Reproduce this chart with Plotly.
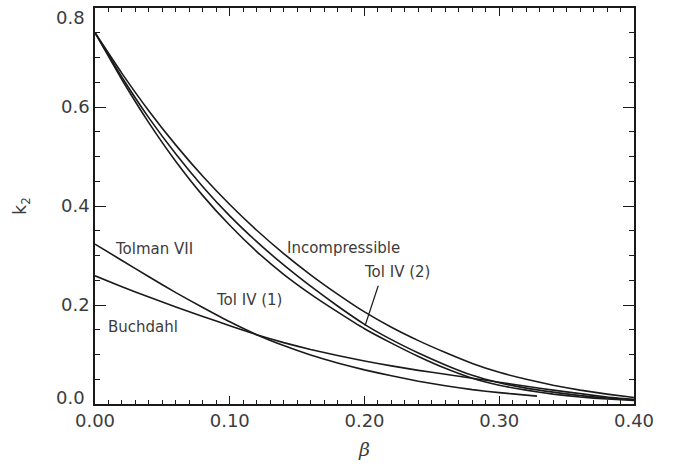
import plotly.graph_objects as go

# Compactness grid (beta = GM/Rc^2) shared by the curves
beta = [0.00, 0.02, 0.04, 0.06, 0.08, 0.10, 0.12, 0.14, 0.16, 0.18, 0.20,
        0.22, 0.24, 0.26, 0.28, 0.30, 0.32, 0.34, 0.36, 0.38, 0.40]

# Tidal Love number k2 for each model
k2_incompressible = [0.750, 0.668, 0.592, 0.523, 0.460, 0.403, 0.351, 0.304, 0.261, 0.222, 0.186,
                     0.155, 0.128, 0.104, 0.082, 0.064, 0.050, 0.038, 0.028, 0.020, 0.013]
k2_tol4_2 = [0.750, 0.660, 0.578, 0.505, 0.439, 0.380, 0.328, 0.281, 0.238, 0.198, 0.161,
             0.130, 0.103, 0.079, 0.058, 0.043, 0.032, 0.024, 0.017, 0.012, 0.009]
k2_tol4_1 = [0.750, 0.655, 0.568, 0.490, 0.421, 0.361, 0.308, 0.262, 0.222, 0.186, 0.152,
             0.123, 0.096, 0.072, 0.052, 0.038, 0.028, 0.020, 0.014, 0.010, 0.007]
k2_buchdahl = [0.259, 0.237, 0.216, 0.196, 0.177, 0.158, 0.140, 0.124, 0.110, 0.098, 0.087,
               0.077, 0.068, 0.060, 0.052, 0.044, 0.036, 0.028, 0.021, 0.014, 0.009]

beta_tolman7 = [0.00, 0.02, 0.04, 0.06, 0.08, 0.10, 0.12, 0.14, 0.16, 0.18, 0.20,
                0.22, 0.24, 0.26, 0.28, 0.30, 0.32, 0.328]
k2_tolman7 = [0.323, 0.290, 0.257, 0.225, 0.195, 0.166, 0.140, 0.118, 0.099, 0.083, 0.069,
              0.057, 0.046, 0.037, 0.029, 0.023, 0.018, 0.016]

x_ticks = [0.0, 0.1, 0.2, 0.3, 0.4]
x_ticklabels = ["0.00", "0.10", "0.20", "0.30", "0.40"]
y_ticks = [0.0, 0.2, 0.4, 0.6, 0.8]
y_ticklabels = ["0.0", "0.2", "0.4", "0.6", "0.8"]

ink = "#1a1a1a"
text_grey = "#3c3c3c"
tick_font = dict(family="DejaVu Sans", size=18, color=text_grey)

line_style = dict(color=ink, width=1.6, shape="spline", smoothing=0.4)

fig = go.Figure()
for xs, ys, name in [
    (beta, k2_incompressible, "Incompressible"),
    (beta, k2_tol4_2, "Tol IV (2)"),
    (beta, k2_tol4_1, "Tol IV (1)"),
    (beta, k2_buchdahl, "Buchdahl"),
    (beta_tolman7, k2_tolman7, "Tolman VII"),
]:
    fig.add_trace(go.Scatter(x=xs, y=ys, mode="lines", name=name,
                             line=line_style, showlegend=False, hoverinfo="skip"))

label_font = dict(family="DejaVu Sans", size=15, color=text_grey)
for text, x, y in [
    ("Incompressible", 0.141, 0.315),
    ("Tol IV (2)", 0.198, 0.266),
    ("Tol IV (1)", 0.088, 0.211),
    ("Tolman VII", 0.013, 0.313),
    ("Buchdahl", 0.008, 0.155),
]:
    fig.add_annotation(x=x, y=y, text=text, showarrow=False, xanchor="left",
                       yanchor="middle", font=label_font)

# Pointer from the "Tol IV (2)" label to its curve
fig.add_shape(type="line", x0=0.2102, y0=0.239, x1=0.2004, y1=0.158,
              line=dict(color=ink, width=1.2))

# End labels of the k2 axis sit inside the frame, so they are placed by hand
y_label_show = [t if 0 < v < 0.8 else "" for v, t in zip(y_ticks, y_ticklabels)]
for v, t, shift in [(y_ticks[0], y_ticklabels[0], 7), (y_ticks[-1], y_ticklabels[-1], -9)]:
    fig.add_annotation(xref="paper", x=0, y=v, text=t, showarrow=False,
                       xanchor="right", yanchor="middle", xshift=-8, yshift=shift,
                       font=tick_font)

axis_common = dict(
    showgrid=False, zeroline=False, showline=True, linecolor=ink,
    linewidth=1.5, mirror="ticks", ticks="inside", tickcolor=ink,
    tickfont=tick_font,
)

fig.update_xaxes(
    range=[0, 0.4], tickvals=x_ticks, ticktext=x_ticklabels, ticklen=8, tickwidth=1.2,
    minor=dict(ticks="inside", dtick=0.01, ticklen=4, tickcolor=ink, tickwidth=1),
    title=dict(text="<i>β</i>", font=dict(family="DejaVu Serif", size=19, color=text_grey),
               standoff=12),
    **axis_common,
)
fig.update_yaxes(
    range=[0, 0.8], tickvals=y_ticks, ticktext=y_label_show, ticklen=11, tickwidth=1.2,
    minor=dict(ticks="inside", dtick=0.05, ticklen=5, tickcolor=ink, tickwidth=1),
    title=dict(text="k<sub>2</sub>", font=dict(family="DejaVu Sans", size=17, color=text_grey),
               standoff=30),
    **axis_common,
)

fig.update_layout(
    width=678, height=466,
    margin=dict(l=95, r=44, t=6, b=62),
    paper_bgcolor="white", plot_bgcolor="white",
)

fig.write_html("out.html")
